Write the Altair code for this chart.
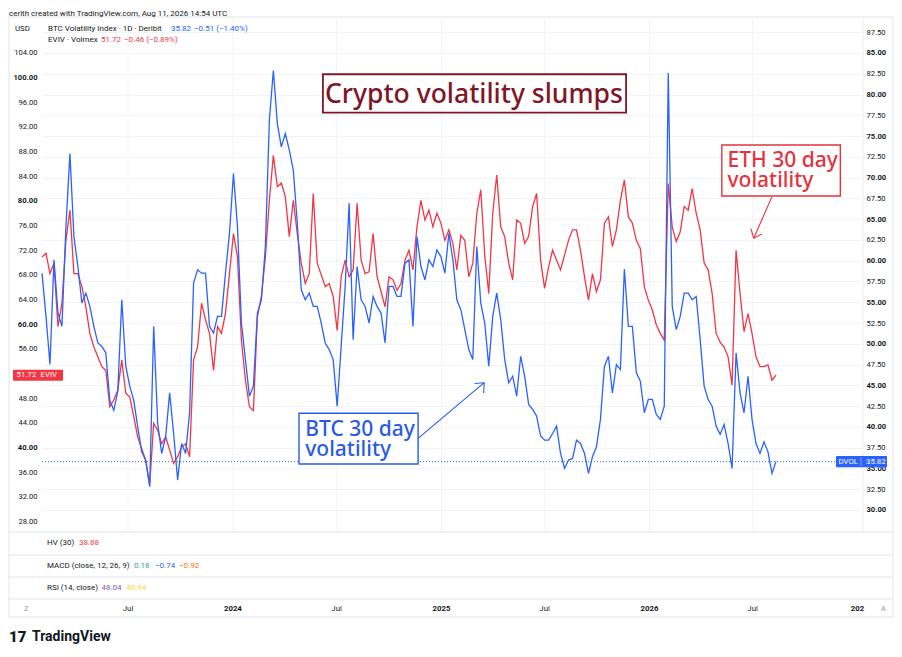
import altair as alt
import pandas as pd

# ---------------- data (weekly samples) ----------------
dates = pd.date_range("2023-01-31", "2026-08-11", freq="7D").strftime("%Y-%m-%d").tolist()

# BTC Volatility Index (DVOL, Deribit) - right axis
dvol = [
    58.5, 53.3, 47.5, 60.1, 53.7, 52.1, 64.1, 72.9, 62.9, 59.3,
    54.9, 56.1, 54.5, 52.1, 50.1, 49.7, 48.9, 43.2, 42.0, 44.3,
    55.3, 47.3, 44.9, 43.2, 40.0, 37.0, 36.0, 32.8, 52.1, 40.4,
    36.8, 38.8, 44.1, 39.2, 33.6, 38.0, 36.8, 41.7, 57.3, 58.9,
    58.5, 58.5, 52.1, 51.3, 53.3, 53.3, 58.5, 63.3, 70.5, 64.1,
    52.5, 48.1, 43.7, 44.9, 53.7, 55.3, 61.7, 76.9, 82.9, 76.5,
    73.7, 75.3, 73.3, 70.9, 64.5, 56.5, 55.3, 56.1, 54.5, 54.5,
    52.5, 50.1, 49.3, 48.1, 42.5, 49.7, 56.9, 66.9, 50.5, 59.3,
    55.3, 54.5, 52.5, 55.7, 54.5, 53.7, 50.1, 56.9, 56.9, 55.7,
    55.7, 59.7, 60.1, 52.1, 62.9, 59.3, 57.7, 60.1, 59.3, 61.3,
    60.5, 58.5, 63.3, 60.1, 55.3, 54.1, 51.7, 49.3, 48.1, 61.7,
    54.9, 52.5, 47.3, 53.3, 56.1, 52.9, 48.1, 45.3, 46.1, 43.7,
    48.5, 46.1, 42.7, 42.1, 41.3, 38.9, 38.4, 38.4, 39.2, 40.1,
    36.8, 35.0, 36.0, 36.2, 38.4, 38.0, 36.8, 34.4, 36.4, 37.6,
    40.9, 47.3, 48.5, 44.1, 47.5, 46.9, 59.0, 52.1, 52.1, 46.5,
    45.5, 41.7, 43.3, 43.3, 41.5, 40.9, 42.5, 82.6, 54.5, 51.7,
    53.3, 56.1, 56.1, 55.3, 55.7, 50.5, 44.9, 43.3, 42.5, 40.1,
    39.1, 40.3, 38.0, 35.0, 48.9, 44.1, 41.7, 46.1, 40.9, 38.0,
    36.8, 38.2, 37.0, 34.4, 35.82,
]

# EVIV (Volmex ETH implied volatility) - left axis
eviv = [
    70.9, 71.5, 68.2, 69.9, 59.6, 63.4, 73.6, 78.5, 68.2, 68.2,
    66.1, 62.8, 58.5, 56.3, 54.7, 53.1, 52.5, 46.6, 47.7, 49.3,
    54.2, 48.8, 48.2, 45.0, 41.7, 39.8, 37.9, 33.9, 43.9, 42.8,
    40.6, 41.7, 39.6, 37.4, 38.5, 40.1, 40.6, 38.5, 54.2, 56.3,
    63.4, 60.7, 58.5, 52.5, 59.6, 58.5, 61.8, 68.2, 74.7, 70.9,
    57.4, 50.9, 46.6, 46.0, 61.2, 64.5, 70.9, 80.1, 87.4, 82.3,
    82.9, 80.7, 74.2, 80.1, 74.7, 69.9, 66.6, 68.2, 81.2, 69.9,
    68.0, 66.1, 66.6, 64.5, 59.0, 67.7, 70.4, 67.7, 68.8, 79.6,
    70.4, 68.2, 68.5, 74.7, 67.7, 65.3, 62.8, 67.7, 67.2, 65.5,
    66.6, 70.4, 72.0, 68.8, 75.8, 80.1, 76.9, 78.5, 75.8, 78.0,
    76.4, 73.6, 75.3, 73.1, 68.8, 74.4, 73.6, 67.7, 69.9, 78.0,
    81.8, 71.1, 65.0, 78.0, 84.2, 75.8, 74.2, 69.9, 67.2, 76.9,
    76.4, 73.1, 74.2, 79.1, 81.2, 70.4, 65.8, 69.3, 72.0, 70.4,
    68.8, 71.2, 73.6, 75.3, 75.3, 72.0, 67.7, 63.9, 68.2, 65.3,
    67.2, 76.4, 77.4, 72.6, 75.3, 80.1, 83.4, 77.4, 76.4, 73.6,
    72.3, 66.1, 63.9, 62.3, 59.9, 58.5, 57.4, 82.8, 75.8, 73.4,
    75.0, 79.1, 78.5, 82.0, 78.0, 75.3, 69.9, 68.8, 65.0, 58.5,
    57.1, 56.3, 54.7, 50.1, 72.0, 65.0, 58.8, 61.7, 58.5, 54.7,
    53.1, 53.1, 53.4, 50.9, 51.72,
]

grid_dates = ["2023-07-01", "2024-01-01", "2024-07-01", "2025-01-01",
              "2025-07-01", "2026-01-01", "2026-07-01"]
month_labels = pd.DataFrame({"d": ["2023-07-01", "2024-07-01", "2025-07-01", "2026-07-01"],
                             "t": ["Jul", "Jul", "Jul", "Jul"]})
year_labels = pd.DataFrame({"d": ["2024-01-01", "2025-01-01", "2026-01-01", "2027-01-01"],
                            "t": ["2024", "2025", "2026", "202"]})
left_ticks = [28, 32, 36, 40, 44, 48, 56, 60, 64, 68, 72, 76, 80, 84, 88, 92, 96, 100, 104]
right_ticks = [30, 32.5, 35, 37.5, 40, 42.5, 45, 47.5, 50, 52.5, 55, 57.5, 60, 62.5,
               65, 67.5, 70, 72.5, 75, 77.5, 80, 82.5, 85, 87.5]

# annotations (in data units: date on x, DVOL scale on y)
boxes = pd.DataFrame({
    "d1": ["2024-06-07", "2026-05-08", "2024-04-26"],
    "d2": ["2025-11-21", "2026-12-02", "2024-11-21"],
    "v1": [82.44, 73.93, 41.64],
    "v2": [77.82, 67.79, 35.54],
    "c": ["#7f1628", "#e5323e", "#2a5be3"],
    "w": [1.8, 1.4, 1.4],
})
title_df = pd.DataFrame({"d": ["2025-02-27"], "v": [79.02], "t": ["Crypto volatility slumps"]})
notes = pd.DataFrame({
    "d": ["2026-05-18", "2024-05-07"],
    "v": [71.28, 38.91],
    "t": ["ETH 30 day\nvolatility", "BTC 30 day\nvolatility"],
    "c": ["#e5323e", "#2a5be3"],
})
arrows = pd.DataFrame({
    "d1": ["2024-11-21", "2025-03-17", "2025-03-17", "2026-08-04", "2026-07-03", "2026-07-03"],
    "v1": [38.62, 45.32, 45.32, 67.71, 62.70, 62.70],
    "d2": ["2025-03-17", "2025-02-28", "2025-03-16", "2026-07-03", "2026-07-18", "2026-06-28"],
    "v2": [45.32, 45.22, 44.08, 62.70, 63.23, 63.85],
    "c": ["#2a5be3"] * 3 + ["#e5323e"] * 3,
})

# ---------------- styling ----------------
W, H = 820, 515
RED = "#f23645"
BLUE = "#2962ff"
INK = "#131722"
GRID = "#f0f3fa"
FRAME = "#e0e3eb"
UI = "Roboto"
ANN = "Noto Sans"

df = pd.DataFrame({"date": dates, "dvol": dvol, "eviv": eviv})
ONE = pd.DataFrame({"k": [0]})

xs = alt.Scale(domain=[alt.DateTime(year=2023, month=1, date=31, utc=True),
                       alt.DateTime(year=2027, month=1, date=9, utc=True)])
RS = alt.Scale(domain=[27.35, 89.33], nice=False, zero=False)
LS = alt.Scale(domain=[26.28, 109.84], nice=False, zero=False)


def X(field):
    return alt.X(f"{field}:T", scale=xs, axis=None, title=None)


def YR(field):
    return alt.Y(f"{field}:Q", scale=RS, axis=None, title=None)


def YL(field):
    return alt.Y(f"{field}:Q", scale=LS, axis=None, title=None)


r_axis = alt.Axis(
    orient="right", values=right_ticks, format=".2f",
    labelFontWeight={"condition": {"test": "datum.value % 5 == 0", "value": "bold"}, "value": "normal"},
    grid=True, gridColor=GRID, gridWidth=1, ticks=False, domain=False, labelPadding=4,
    labelFont=UI, labelFontSize=7.6, labelColor=INK, title=None, labelOverlap=False, zindex=0,
)
l_axis = alt.Axis(
    orient="left", values=left_ticks, format=".2f",
    labelFontWeight={"condition": {"test": "datum.value % 20 == 0", "value": "bold"}, "value": "normal"},
    grid=False, ticks=False, domain=False, labelPadding=5,
    labelFont=UI, labelFontSize=7.6, labelColor=INK, title=None, labelOverlap=False, zindex=0,
)


def txt(s, px, py, color=INK, size=8.0, weight="normal", align="left", font=UI):
    return alt.Chart(ONE).mark_text(
        text=s, align=align, baseline="middle", font=font, fontSize=size,
        fontWeight=weight, color=color,
    ).encode(x=alt.value(px), y=alt.value(py))


def hline(py, x1, x2, color=FRAME):
    return alt.Chart(ONE).mark_rule(color=color, strokeWidth=1).encode(
        x=alt.value(x1), x2=alt.value(x2), y=alt.value(py))


def vline(px, y1, y2, color=FRAME):
    return alt.Chart(ONE).mark_rule(color=color, strokeWidth=1).encode(
        x=alt.value(px), y=alt.value(y1), y2=alt.value(y2))


layers = []

# vertical grid lines at the time labels
layers.append(
    alt.Chart(pd.DataFrame({"d": grid_dates})).mark_rule(color=GRID, strokeWidth=1).encode(
        x=X("d"), y=alt.value(0), y2=alt.value(H))
)

# frame and sub-pane separators
for py in [0, 515, 538, 560, 582, 600]:
    layers.append(hline(py, -33, 851))
layers.append(vline(-33, 0, 600))
layers.append(vline(851, 0, 600))
layers.append(vline(821, 0, 515, color="#eceef2"))

# DVOL last-price dotted line
last_d = dvol[-1]
last_e = eviv[-1]
layers.append(
    alt.Chart(pd.DataFrame({"v": [last_d]})).mark_rule(
        color=BLUE, strokeWidth=1, strokeDash=[1, 2]).encode(
        y=YR("v"), x=alt.value(0), x2=alt.value(794))
)

# series: EVIV (left axis) then DVOL (right axis, main)
layers.append(
    alt.Chart(df).mark_line(color=RED, strokeWidth=1.3).encode(
        x=X("date"), y=alt.Y("eviv:Q", scale=LS, axis=l_axis, title=None))
)
layers.append(
    alt.Chart(df).mark_line(color=BLUE, strokeWidth=1.3).encode(
        x=X("date"), y=alt.Y("dvol:Q", scale=RS, axis=r_axis, title=None))
)

# time scale labels (bottom strip), placed through the x scale
layers.append(
    alt.Chart(month_labels).mark_text(
        align="center", baseline="middle", font=UI, fontSize=7.8, color=INK).encode(
        x=X("d"), y=alt.value(591.5), text="t:N")
)
layers.append(
    alt.Chart(year_labels).mark_text(
        align="center", baseline="middle", font=UI, fontSize=7.8, fontWeight="bold", color=INK).encode(
        x=X("d"), y=alt.value(591.5), text="t:N")
)

# annotation boxes, texts and arrows
layers.append(
    alt.Chart(boxes).mark_rect(fill="white").encode(
        x=X("d1"), x2="d2:T", y=YR("v1"), y2="v2:Q",
        stroke=alt.Stroke("c:N", scale=None),
        strokeWidth=alt.StrokeWidth("w:Q", scale=None))
)
layers.append(
    alt.Chart(title_df).mark_text(
        align="center", baseline="alphabetic", font=ANN, fontSize=26.5, fontWeight=500,
        color="#7f1628").encode(
        x=X("d"), y=YR("v"), text="t:N")
)
layers.append(
    alt.Chart(notes).mark_text(
        align="left", baseline="alphabetic", font=ANN, fontSize=21, fontWeight=500,
        lineBreak="\n", lineHeight=20).encode(
        x=X("d"), y=YR("v"), text="t:N", color=alt.Color("c:N", scale=None))
)
layers.append(
    alt.Chart(arrows).mark_rule(strokeWidth=1.1).encode(
        x=X("d1"), x2="d2:T", y=YR("v1"), y2="v2:Q", color=alt.Color("c:N", scale=None))
)

# price labels on the scales
layers.append(
    alt.Chart(pd.DataFrame({"a": [last_e + 0.9], "b": [last_e - 0.9]})).mark_rect(
        color=RED, cornerRadius=1).encode(
        x=alt.value(-29), x2=alt.value(21), y=YL("a"), y2="b:Q")
)
layers.append(
    alt.Chart(pd.DataFrame({"v": [last_e], "t": [f"{last_e:.2f}"]})).mark_text(
        align="left", baseline="middle", font=UI, fontSize=7.8, color="white").encode(
        x=alt.value(-25.5), y=YL("v"), text="t:N")
)
layers.append(
    alt.Chart(pd.DataFrame({"v": [last_e], "t": ["EVIV"]})).mark_text(
        align="left", baseline="middle", font=UI, fontSize=7.8, color="white").encode(
        x=alt.value(-1.5), y=YL("v"), text="t:N")
)
layers.append(
    alt.Chart(pd.DataFrame({"a": [last_d + 0.68], "b": [last_d - 0.68]})).mark_rect(
        color=BLUE, cornerRadius=1).encode(
        x=alt.value(794), x2=alt.value(845), y=YR("a"), y2="b:Q")
)
layers.append(
    alt.Chart(pd.DataFrame({"a": [last_d + 0.5], "b": [last_d - 0.5]})).mark_rule(
        color="#a9bcff", strokeWidth=0.8).encode(
        x=alt.value(819), y=YR("a"), y2="b:Q")
)
layers.append(
    alt.Chart(pd.DataFrame({"v": [last_d], "t": ["DVOL"]})).mark_text(
        align="left", baseline="middle", font=UI, fontSize=7.8, color="white").encode(
        x=alt.value(796.5), y=YR("v"), text="t:N")
)
layers.append(
    alt.Chart(pd.DataFrame({"v": [last_d], "t": [f"{last_d:.2f}"]})).mark_text(
        align="left", baseline="middle", font=UI, fontSize=7.8, color="white").encode(
        x=alt.value(824), y=YR("v"), text="t:N")
)

# header, legends, sub-pane labels, footer
layers += [
    txt("cerith created with TradingView.com, Aug 11, 2026 14:54 UTC", -33, -3.5, size=8),
    txt("USD", -27, 12, size=7.8),
    txt("BTC Volatility Index · 1D · Deribit", 6, 11.5, size=8),
    txt("35.82", 129, 11.5, color=BLUE, size=8),
    txt("−0.51 (−1.40%)", 152, 11.5, color=BLUE, size=8),
    txt("EVIV · Volmex", 6, 22.7, size=8),
    txt("51.72", 59, 22.7, color=RED, size=8),
    txt("−0.46 (−0.89%)", 82, 22.7, color=RED, size=8),
    txt("HV (30)", 5, 526, size=8),
    txt("38.88", 37, 526, color=RED, size=8),
    txt("MACD (close, 12, 26, 9)", 5, 549, size=8),
    txt("0.18", 92, 549, color="#22ab94", size=8),
    txt("−0.74", 113, 549, color=BLUE, size=8),
    txt("−0.92", 137, 549, color="#ff6d00", size=8),
    txt("RSI (14, close)", 5, 571, size=8),
    txt("48.04", 59.5, 571, color="#7e57c2", size=8),
    txt("40.64", 84.5, 571, color="#fdd835", size=8),
    txt("Z", -18, 591.5, color="#9598a1", size=7.5),
    txt("A", 839, 591.5, color="#9598a1", size=7.5),
    txt("17", -33, 620, size=15, weight=900),
    txt("TradingView", -10, 620, size=14, weight="bold"),
]

chart = (
    alt.layer(*layers)
    .resolve_scale(y="independent")
    .properties(
        width=W, height=H,
        padding={"left": 34, "top": 9, "right": 32, "bottom": 117},
        autosize=alt.AutoSizeParams(type="none"),
        background="white",
    )
    .configure_view(stroke=None)
)

chart.save("out.html", embed_options={"renderer": "svg", "actions": False})
